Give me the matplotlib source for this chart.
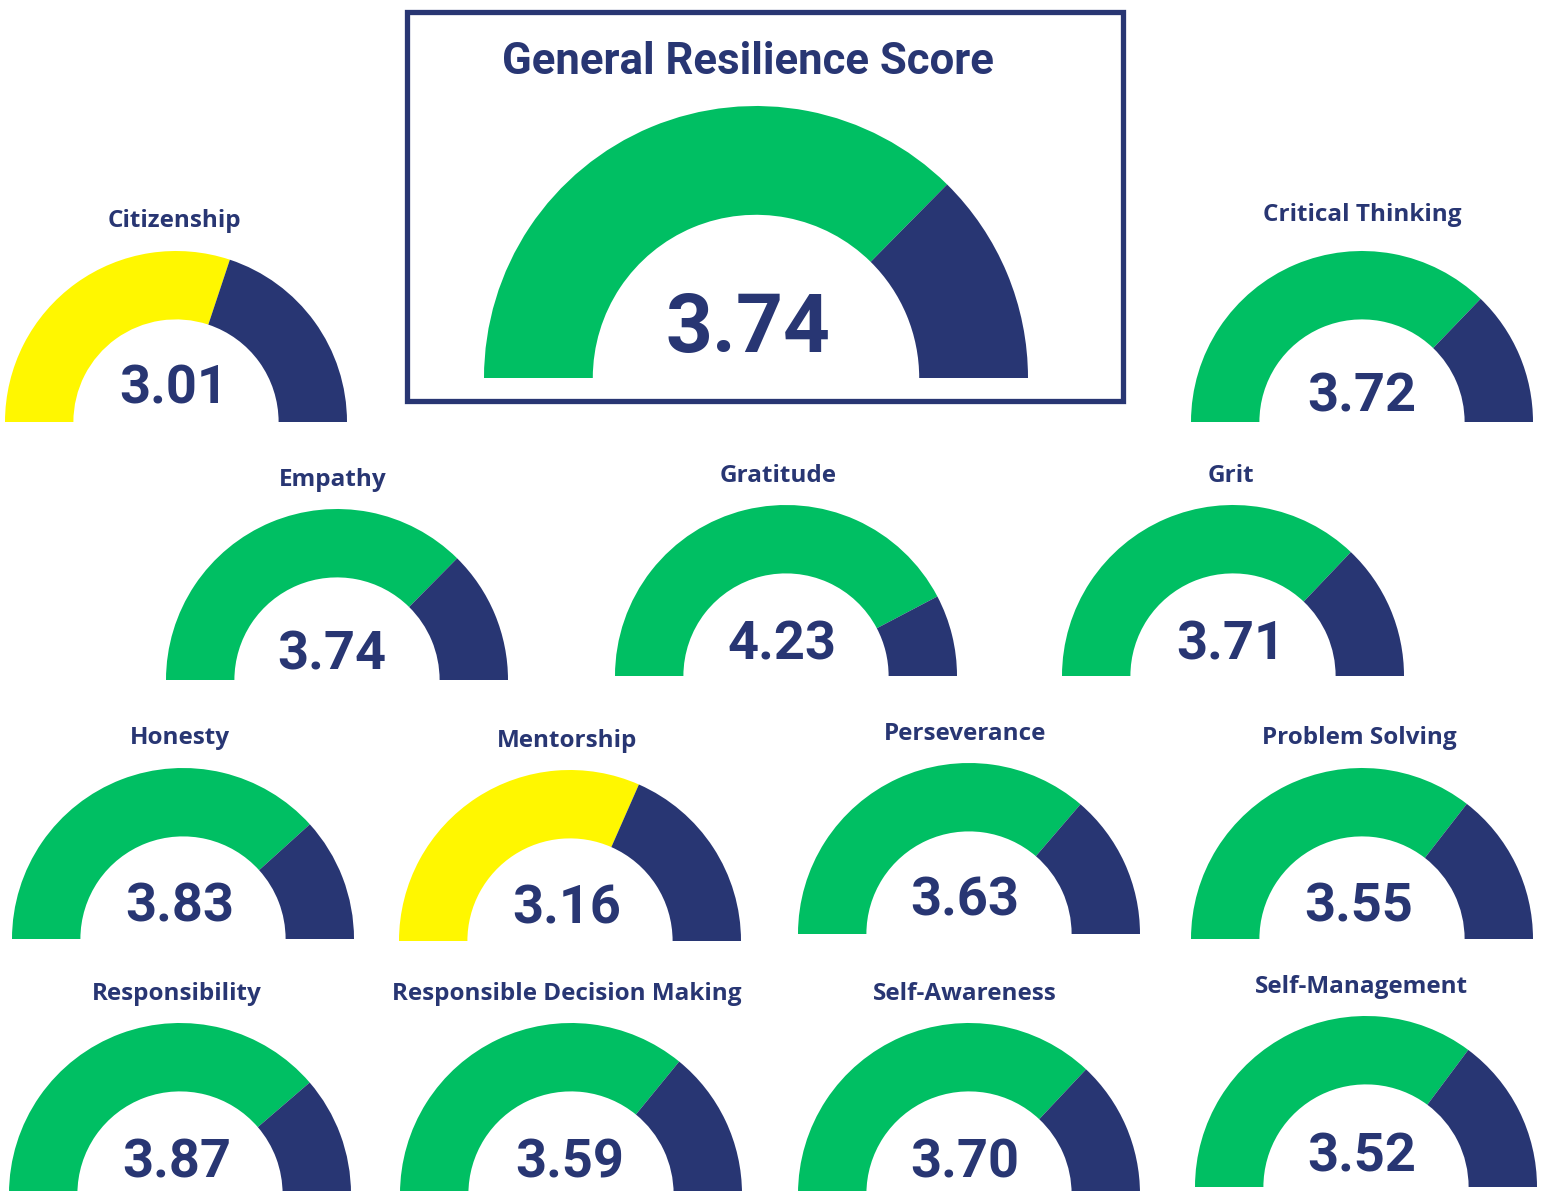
import matplotlib.pyplot as plt
from matplotlib.patches import Wedge, Rectangle

# Scores (scale 0 - 5)
general_label = "General Resilience Score"
general_score = 3.74

labels = [
    "Citizenship", "Critical Thinking",
    "Empathy", "Gratitude", "Grit",
    "Honesty", "Mentorship", "Perseverance", "Problem Solving",
    "Responsibility", "Responsible Decision Making", "Self-Awareness", "Self-Management",
]
scores = [3.01, 3.72, 3.74, 4.23, 3.71, 3.83, 3.16, 3.63, 3.55, 3.87, 3.59, 3.70, 3.52]

max_score = 5.0
threshold = 3.5  # below this the gauge turns yellow

# Colors
green = "#00BF63"
yellow = "#FFF700"
navy = "#283673"

# Layout in pixels (x center, gauge baseline y) measured from the top left
W, H = 1545, 1191
gauge_pos = [
    (176, 422), (1362, 422),
    (337, 680), (786, 676), (1233, 676),
    (183, 939), (570, 941), (969, 934), (1362, 939),
    (180, 1194), (571, 1194), (969, 1194), (1366, 1187),
]
label_pos = [
    (174, 227), (1362, 221),
    (333, 486), (778, 482), (1231, 482),
    (180, 744), (567, 747), (965, 740), (1359, 744),
    (177, 1000), (567, 1000), (965, 1000), (1361, 993),
]
value_pos = [
    (174, 404), (1362, 412),
    (332, 670), (782, 659), (1231, 659),
    (180, 922), (567, 924), (965, 916), (1359, 922),
    (177, 1177), (570, 1177), (965, 1177), (1362, 1171),
]
small_r = 171
big_r = 272
ring = 0.4  # ring width as a fraction of the radius

label_font = "Open Sans"
value_font = "Roboto"
title_font = ["Liberation Sans Narrow", "Roboto"]


def draw_gauge(ax, cx, cy, r, score):
    # cy given in pixels from top, flip for the axes
    y = H - cy
    split = 180 - 180 * score / max_score
    fill = yellow if score < threshold else green
    ax.add_patch(Wedge((cx, y), r, split, 180, width=r * ring, color=fill, lw=0))
    ax.add_patch(Wedge((cx, y), r, 0, split, width=r * ring, color=navy, lw=0))


fig = plt.figure(figsize=(W / 100, H / 100), dpi=100)
ax = fig.add_axes([0, 0, 1, 1])
ax.set_xlim(0, W)
ax.set_ylim(0, H)
ax.set_aspect("equal")
ax.axis("off")

# General score box
ax.add_patch(Rectangle((407, H - 401), 716, 389, fill=False, edgecolor=navy, lw=3.8))
draw_gauge(ax, 756, 378, big_r, general_score)
ax.text(748, H - 74, general_label, ha="center", va="baseline", color=navy,
        fontsize=31.5, fontweight="bold", family=title_font)
ax.text(748, H - 352, f"{general_score:.2f}", ha="center", va="baseline", color=navy,
        fontsize=59, fontweight="bold", family=value_font)

# Small gauges
for i, label in enumerate(labels):
    cx, cy = gauge_pos[i]
    draw_gauge(ax, cx, cy, small_r, scores[i])
    lx, ly = label_pos[i]
    ax.text(lx, H - ly, label, ha="center", va="baseline", color=navy,
            fontsize=17.5, fontweight="bold", family=label_font)
    vx, vy = value_pos[i]
    ax.text(vx, H - vy, f"{scores[i]:.2f}", ha="center", va="baseline", color=navy,
            fontsize=39, fontweight="bold", family=value_font)

fig.savefig("out.png", dpi=100, facecolor="white")
